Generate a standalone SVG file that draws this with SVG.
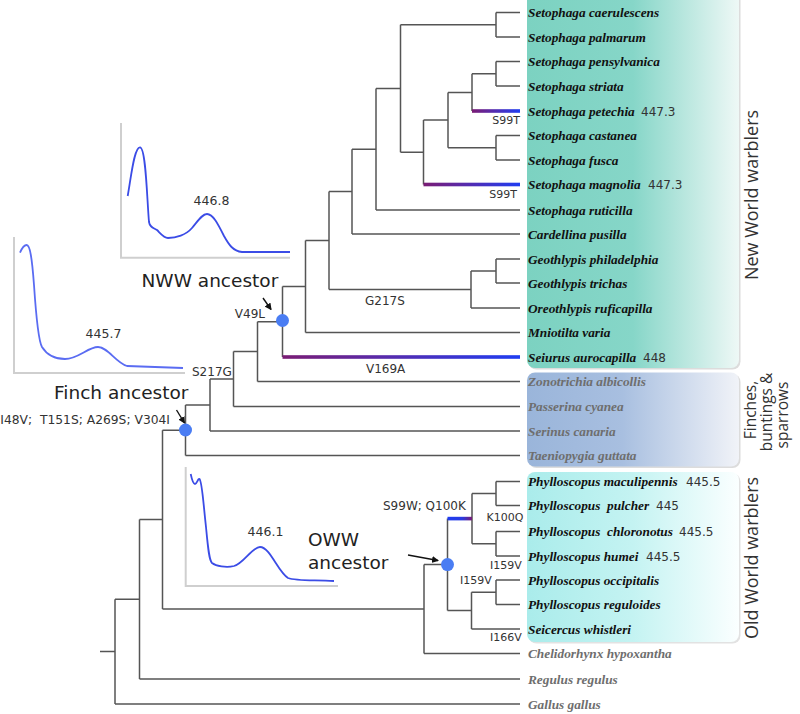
<svg xmlns="http://www.w3.org/2000/svg" width="800" height="714" viewBox="0 0 800 714">
<defs>
<style>
.br{fill:none;stroke:#555;stroke-width:1.5}
.sp{font-family:"Liberation Serif","Times New Roman",serif;font-style:italic;font-weight:bold;font-size:13.3px;fill:#111}
.gr{fill:#6e6e6e}
.num{font-family:"DejaVu Sans",Verdana,sans-serif;font-size:12px;fill:#333}
.mut{font-family:"DejaVu Sans",Verdana,sans-serif;font-size:12px;fill:#333}
.mut11{font-family:"DejaVu Sans",Verdana,sans-serif;font-size:11px;fill:#333}
.anc{font-family:"DejaVu Sans",Verdana,sans-serif;font-size:18.5px;fill:#222}
.grp{font-family:"Open Sans","DejaVu Sans",sans-serif;font-size:18px;fill:#333}
.grp2{font-family:"Open Sans","DejaVu Sans",sans-serif;font-size:15.5px;fill:#333}
.axis{fill:none;stroke:#cfcfcf;stroke-width:2}
.spec{fill:none;stroke:#3b4ce6;stroke-width:1.8;stroke-linejoin:round}
.spec2{fill:none;stroke:#5a6cf2;stroke-width:1.8;stroke-linejoin:round}
.slab{font-family:"DejaVu Sans",Verdana,sans-serif;font-size:12.5px;fill:#333;text-anchor:middle}
.dot{fill:#4a7df3}
.arr{stroke:#111;stroke-width:1.4;fill:none}
</style>
<linearGradient id="gNWW" x1="0" y1="0" x2="1" y2="0">
<stop offset="0" stop-color="#7cd2c1"/><stop offset="0.5" stop-color="#86d6c8"/><stop offset="1" stop-color="#eef8f6"/>
</linearGradient>
<linearGradient id="gFin" x1="0" y1="0" x2="1" y2="0">
<stop offset="0" stop-color="#9ab5da"/><stop offset="0.45" stop-color="#a8bfe0"/><stop offset="1" stop-color="#f1f3f8"/>
</linearGradient>
<linearGradient id="gOWW" x1="0" y1="0" x2="1" y2="0">
<stop offset="0" stop-color="#aaeceb"/><stop offset="0.5" stop-color="#c4f3f2"/><stop offset="1" stop-color="#fbffff"/>
</linearGradient>
<linearGradient id="gPB" x1="0" y1="0" x2="1" y2="0">
<stop offset="0" stop-color="#7a1c74"/><stop offset="0.4" stop-color="#5a2aa8"/><stop offset="1" stop-color="#1f3df2"/>
</linearGradient>
<linearGradient id="gBP" x1="0" y1="0" x2="1" y2="0">
<stop offset="0" stop-color="#1f3df2"/><stop offset="0.6" stop-color="#2a3ae0"/><stop offset="1" stop-color="#7a1c74"/>
</linearGradient>
<marker id="ah" markerUnits="userSpaceOnUse" markerWidth="7" markerHeight="7" refX="6" refY="3.5" orient="auto">
<path d="M0,0 L7,3.5 L0,7 z" fill="#111"/>
</marker>
</defs>
<rect width="800" height="714" fill="#fff"/>

<g id="clade-boxes">
<rect x="528.5" y="-8.5" width="212" height="378" rx="8" fill="#dcdcdc"/>
<rect x="527" y="-10" width="212" height="378" rx="8" fill="url(#gNWW)"/>
<rect x="528.5" y="374" width="212" height="94" rx="8" fill="#dcdcdc"/>
<rect x="527" y="372.5" width="212" height="94" rx="8" fill="url(#gFin)"/>
<rect x="528.5" y="473.5" width="212" height="170" rx="8" fill="#e2e2e2"/>
<rect x="527" y="472" width="212" height="170" rx="8" fill="url(#gOWW)"/>
<text class="grp" transform="translate(758,195) rotate(-90)" text-anchor="middle">New World warblers</text>
<text class="grp2" transform="translate(756,410) rotate(-90)" text-anchor="middle">Finches,</text>
<text class="grp2" transform="translate(772,412) rotate(-90)" text-anchor="middle">buntings &amp;</text>
<text class="grp2" transform="translate(788,415) rotate(-90)" text-anchor="middle">sparrows</text>
<text class="grp" transform="translate(758,558) rotate(-90)" text-anchor="middle">Old World warblers</text>
</g>

<g id="connectors">
<path class="br" d="M496,12.5V37 M496,12.5H520 M496,37H520"/>
<path class="br" d="M496,61.5V86 M496,61.5H520 M496,86H520"/>
<path class="br" d="M472,73.75V111 M472,73.75H496"/>
<path class="br" d="M496,135.5V160 M496,135.5H520 M496,160H520"/>
<path class="br" d="M448,92.4V147.75 M448,92.4H472 M448,147.75H496"/>
<path class="br" d="M423.5,120.1V184.5 M423.5,120.1H448"/>
<path class="br" d="M400.5,24.75V152.3 M400.5,24.75H496 M400.5,152.3H423.5"/>
<path class="br" d="M376,88.5V210 M376,88.5H400.5 M376,210H520"/>
<path class="br" d="M352,149.25V234 M352,149.25H376 M352,234H520"/>
<path class="br" d="M496,259V283 M496,259H520 M496,283H520"/>
<path class="br" d="M471,271V308 M471,271H496 M471,308H520"/>
<path class="br" d="M329,191.6V289.5 M329,191.6H352 M329,289.5H471"/>
<path class="br" d="M305.5,240.5V332.5 M305.5,240.5H329 M305.5,332.5H520"/>
<path class="br" d="M282.5,286.5V357 M282.5,286.5H305.5"/>
<path class="br" d="M257.5,321.75V381.5 M257.5,321.75H282.5 M257.5,381.5H520"/>
<path class="br" d="M233.5,351.6V406.5 M233.5,351.6H257.5 M233.5,406.5H520"/>
<path class="br" d="M210,379V431 M210,379H233.5 M210,431H520"/>
<path class="br" d="M185.5,405V455.5 M185.5,405H210 M185.5,455.5H520"/>
<path class="br" d="M162.5,430.25V609 M162.5,430.25H185.5 M162.5,609H424"/>
<path class="br" d="M496,481.5V505.5 M496,481.5H520 M496,505.5H520"/>
<path class="br" d="M496,531.5V556 M496,531.5H520 M496,556H520"/>
<path class="br" d="M472,493.5V543.75 M472,493.5H496 M472,543.75H496"/>
<path class="br" d="M496,580V604.5 M496,580H520 M496,604.5H520"/>
<path class="br" d="M471.5,592.25V629 M471.5,592.25H496 M471.5,629H520"/>
<path class="br" d="M447.5,518.6V610.6 M447.5,610.6H471.5"/>
<path class="br" d="M424,564.6V653.5 M424,564.6H447.5 M424,653.5H520"/>
<path class="br" d="M139.5,519.6V679 M139.5,519.6H162.5 M139.5,679H520"/>
<path class="br" d="M115,599.3V704 M115,599.3H139.5 M115,704H520 M100,651.6H115"/>
<rect x="472" y="109.2" width="48" height="3.6" fill="url(#gPB)"/>
<rect x="423.5" y="182.7" width="96.5" height="3.6" fill="url(#gPB)"/>
<rect x="282.5" y="355.2" width="237.5" height="3.6" fill="url(#gPB)"/>
<rect x="447.5" y="516.8" width="24.5" height="3.6" fill="url(#gBP)"/>
</g>

<g id="mutations">
<text class="mut11" x="520" y="123.5" text-anchor="end">S99T</text>
<text class="mut11" x="517" y="197.5" text-anchor="end">S99T</text>
<text class="mut" x="365" y="304.5">G217S</text>
<text class="mut" x="366" y="372.5">V169A</text>
<text class="mut" x="265" y="318" text-anchor="end">V49L</text>
<text class="mut" x="192" y="376">S217G</text>
<text class="mut" x="170" y="424" text-anchor="end" xml:space="preserve" style="font-size:12.3px">I48V;  T151S; A269S; V304I</text>
<text class="mut" x="383" y="510">S99W; Q100K</text>
<text class="mut11" x="486.5" y="521">K100Q</text>
<text class="mut11" x="490" y="569">I159V</text>
<text class="mut11" x="460" y="584">I159V</text>
<text class="mut11" x="490" y="641">I166V</text>
</g>

<g id="tip-1"><text class="sp" x="528" y="17">Setophaga caerulescens</text></g>
<g id="tip-2"><text class="sp" x="528" y="41.5">Setophaga palmarum</text></g>
<g id="tip-3"><text class="sp" x="528" y="66">Setophaga pensylvanica</text></g>
<g id="tip-4"><text class="sp" x="528" y="90.5">Setophaga striata</text></g>
<g id="tip-5"><text class="sp" x="528" y="115.5">Setophaga petechia</text><text class="num" x="641" y="115.5">447.3</text></g>
<g id="tip-6"><text class="sp" x="528" y="140">Setophaga castanea</text></g>
<g id="tip-7"><text class="sp" x="528" y="164.5">Setophaga fusca</text></g>
<g id="tip-8"><text class="sp" x="528" y="189">Setophaga magnolia</text><text class="num" x="648" y="189">447.3</text></g>
<g id="tip-9"><text class="sp" x="528" y="214.5">Setophaga ruticilla</text></g>
<g id="tip-10"><text class="sp" x="528" y="238.5">Cardellina pusilla</text></g>
<g id="tip-11"><text class="sp" x="528" y="263.5">Geothlypis philadelphia</text></g>
<g id="tip-12"><text class="sp" x="528" y="287.5">Geothlypis trichas</text></g>
<g id="tip-13"><text class="sp" x="528" y="312.5">Oreothlypis ruficapilla</text></g>
<g id="tip-14"><text class="sp" x="528" y="337">Mniotilta varia</text></g>
<g id="tip-15"><text class="sp" x="528" y="361.5">Seiurus aurocapilla</text><text class="num" x="643" y="361.5">448</text></g>
<g id="tip-16"><text class="sp gr" x="528" y="386">Zonotrichia albicollis</text></g>
<g id="tip-17"><text class="sp gr" x="528" y="411">Passerina cyanea</text></g>
<g id="tip-18"><text class="sp gr" x="528" y="435.5">Serinus canaria</text></g>
<g id="tip-19"><text class="sp gr" x="528" y="460">Taeniopygia guttata</text></g>
<g id="tip-20"><text class="sp" x="528" y="486">Phylloscopus maculipennis</text><text class="num" x="686" y="486">445.5</text></g>
<g id="tip-21"><text class="sp" x="528" y="510" xml:space="preserve">Phylloscopus  pulcher</text><text class="num" x="656" y="510">445</text></g>
<g id="tip-22"><text class="sp" x="528" y="536" xml:space="preserve">Phylloscopus  chloronotus</text><text class="num" x="679" y="536">445.5</text></g>
<g id="tip-23"><text class="sp" x="528" y="560.5">Phylloscopus humei</text><text class="num" x="646" y="560.5">445.5</text></g>
<g id="tip-24"><text class="sp" x="528" y="584.5">Phylloscopus occipitalis</text></g>
<g id="tip-25"><text class="sp" x="528" y="609">Phylloscopus reguloides</text></g>
<g id="tip-26"><text class="sp" x="528" y="633.5">Seicercus whistleri</text></g>
<g id="tip-27"><text class="sp gr" x="528" y="658">Chelidorhynx hypoxantha</text></g>
<g id="tip-28"><text class="sp gr" x="528" y="683.5">Regulus regulus</text></g>
<g id="tip-29"><text class="sp gr" x="528" y="708.5">Gallus gallus</text></g>

<g id="nww-ancestor">
<path class="axis" d="M121,123V257.7H290"/>
<path class="spec" d="M127.7,196 C131,178 134,147 140,147.3 C146,147.5 147,200 149,222 C150,228 154,228 157,230 C161,234 164,238 168,238 C176,238 186,235 192,228 C198,221 202,214 207,214 C213,214 218,224 224,236 C229,245 233,251 242,252 L290,252"/>
<text class="slab" x="211.5" y="204.5">446.8</text>
<text class="anc" x="141.5" y="286.5">NWW ancestor</text>
<line class="arr" x1="263" y1="298" x2="271" y2="309.5" marker-end="url(#ah)"/>
<circle class="dot" cx="282.5" cy="320.5" r="6.5"/>
</g>

<g id="finch-ancestor">
<path class="axis" d="M14,237V373H185"/>
<path class="spec2" d="M20,252.7 C22,248 24,245 26.7,245 C30,245 32,258 34,285 C36,315 38,340 42,347 C47,355 55,359 65,359 C78,359 88,347 98,347 C108,347 115,362 127,366 L183,368"/>
<text class="slab" x="103.5" y="337.5">445.7</text>
<text class="anc" x="54" y="399">Finch ancestor</text>
<line class="arr" x1="176.5" y1="410" x2="184.5" y2="423" marker-end="url(#ah)"/>
<circle class="dot" cx="185.5" cy="430" r="6.5"/>
</g>

<g id="oww-ancestor">
<path class="axis" d="M185.7,467V586H338"/>
<path class="spec" d="M190.7,474 C192,480 193,484 195,484 C197,484 198,478 199.5,479 C202,481 203,500 206,527 C208,548 209,560 212,563 C216,566 226,568 234,566 C244,563 252,547 260,547 C270,547 278,572 288,578 C296,581 310,580 334,581"/>
<text class="slab" x="265.5" y="535.5">446.1</text>
<text class="anc" x="308" y="546">OWW</text>
<text class="anc" x="308" y="569">ancestor</text>
<line class="arr" x1="408" y1="555" x2="438" y2="560.5" marker-end="url(#ah)"/>
<circle class="dot" cx="447.5" cy="564.6" r="6.5"/>
</g>
</svg>
